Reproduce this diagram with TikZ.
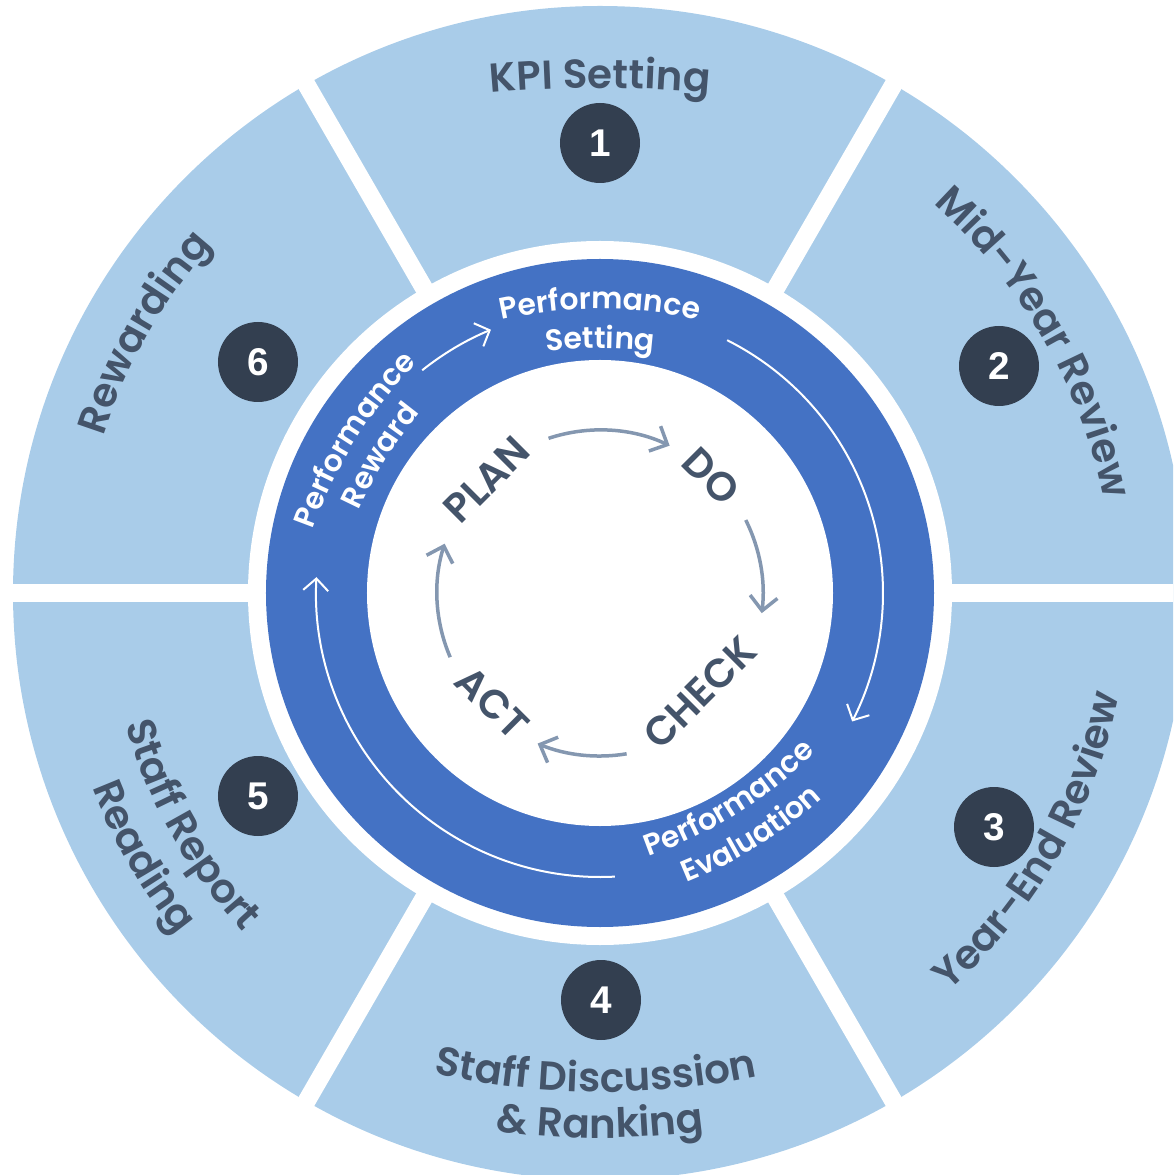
\documentclass[tikz,border=0pt]{standalone}
\usepackage{fontspec}
\setmainfont{Poppins}
\newfontfamily\gothic{Poppins SemiBold}
\newfontfamily\digits{Liberation Sans}
\usetikzlibrary{arrows.meta, decorations.text}
\definecolor{stageblue}{HTML}{A9CCE9}
\definecolor{phaseblue}{HTML}{4472C4}
\definecolor{slate}{HTML}{44546A}
\definecolor{badge}{HTML}{333F50}
\definecolor{cyclegrey}{HTML}{8497B0}
\newcommand{\stagefont}{\gothic\fontsize{23}{23}\selectfont}
\newcommand{\phasefont}{\gothic\fontsize{17}{17}\selectfont}
% text bent round the hub, letters standing away from it
\newcommand{\arcout}[6][slate]{%
  \begin{scope}[shift={(#2:#3)}, rotate=#2-90]
    \path[decorate, decoration={text along path, text align=center, text color=#1, text={|#5|#6}}]
      (0,-#4) ++(130:#4) arc[start angle=130, end angle=50, radius=#4];
  \end{scope}}
% text bent round the hub, letters leaning in towards it
\newcommand{\arcin}[6][slate]{%
  \begin{scope}[shift={(#2:#3)}, rotate=#2+90]
    \path[decorate, decoration={text along path, text align=center, text color=#1, text={|#5|#6}}]
      (0,#4) ++(230:#4) arc[start angle=230, end angle=310, radius=#4];
  \end{scope}}
\tikzset{
  num/.style={circle, fill=badge, text=white, minimum size=16mm, inner sep=0pt, font=\digits\bfseries\fontsize{22}{22}\selectfont},
  pdca/.style={text=slate, font=\gothic\fontsize{23}{23}\selectfont},
  whitearrow/.style={white, line width=0.4mm, -{Straight Barb[length=2.4mm, width=5mm]}},
  greyarrow/.style={cyclegrey, line width=0.7mm, -{Straight Barb[length=2.8mm, width=5.5mm]}},
}

\begin{document}
\begin{tikzpicture}[x=0.2mm, y=0.2mm]
  \useasboundingbox (-600,-582) rectangle (573,593);
  \clip (-600,-582) rectangle (573,593);
  % six stages on the outer ring
  \fill[stageblue] (0,0) circle[radius=587];
  \foreach \a in {0,60,...,300}
    \draw[white, line width=3.6mm] (0,0) -- (\a:620);
  \fill[white] (0,0) circle[radius=352];
  % phase ring and hub
  \fill[phaseblue] (0,0) circle[radius=334];
  \fill[white] (0,0) circle[radius=233];

  % stage numbers
  \node[num] (n1) at (0,450) {1};
  \node[num] (n2) at (399,227) {2};
  \node[num] (n3) at (394,-234) {3};
  \node[num] (n4) at (1,-407) {4};
  \node[num] (n5) at (-342,-203) {5};
  \node[num] (n6) at (-342,231) {6};

  % stage names
  \arcout{90}{505}{1200}{\stagefont}{KPI Setting}
  \arcout{30}{511}{540}{\stagefont}{Mid-Year Review}
  \arcin{-30}{529}{529}{\stagefont}{Year-End Review}
  \arcin{-90.5}{499}{770}{\stagefont}{Staff Discussion}
  \arcin{-90}{545}{770}{\stagefont}{{\&} Ranking}
  \arcin{209.5}{492}{500}{\stagefont}{Staff Report}
  \arcin{210}{544}{540}{\stagefont}{Reading}
  \arcout{150.3}{521}{521}{\stagefont}{Rewarding}

  % phases
  \arcout[white]{90}{284}{450}{\phasefont}{Performance}
  \arcout[white]{90}{245}{450}{\phasefont}{Setting}
  \arcout[white]{148}{288}{450}{\phasefont}{Performance}
  \arcout[white]{148}{252}{450}{\phasefont}{Reward}
  \arcin[white]{-58}{260}{450}{\phasefont}{Performance}
  \arcin[white]{-58}{299}{450}{\phasefont}{Evaluation}
  \draw[whitearrow] (128.6:285) arc[start angle=128.6, end angle=112.5, radius=285];
  \draw[whitearrow] (63.3:283) arc[start angle=63.3, end angle=-27, radius=283];
  \draw[whitearrow] (-87:284) arc[start angle=-87, end angle=-183.2, radius=284];

  % plan - do - check - act
  \node[pdca, rotate=45] (plan) at (135:160) {PLAN};
  \node[pdca, rotate=-45] (do) at (46.4:161) {DO};
  \node[pdca, rotate=45] (check) at (-45:141) {CHECK};
  \node[pdca, rotate=-45] (act) at (-134.5:154) {ACT};
  \foreach \s/\e in {108.4/64.7, 26.6/-7.1, -80.6/-112.5, -156.8/-197.6}
    \draw[greyarrow] (\s:163) arc[start angle=\s, end angle=\e, radius=163];
\end{tikzpicture}
\end{document}
